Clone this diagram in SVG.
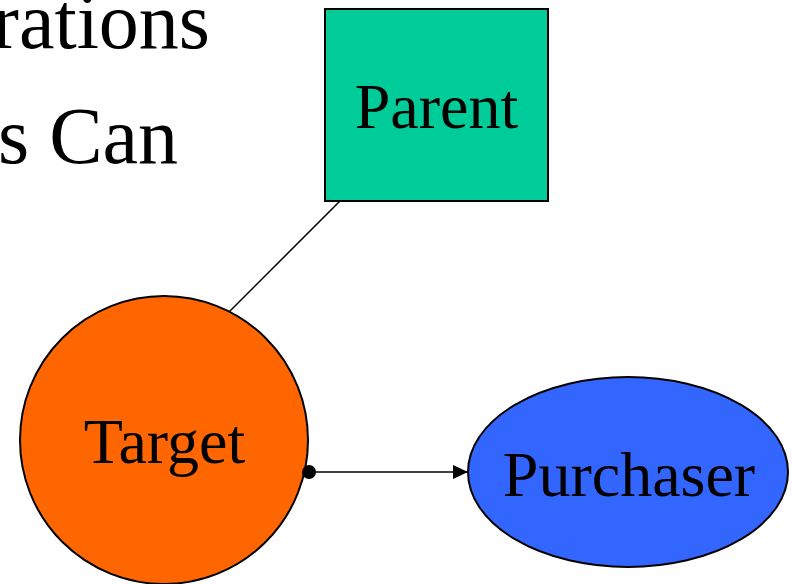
<svg xmlns="http://www.w3.org/2000/svg" width="792" height="584" viewBox="0 0 792 584">
<style>
.t{font-size:80px}
.n{font-size:64px;text-anchor:middle}
.s{stroke:#000;stroke-width:2}
.c{stroke:#000;stroke-width:1.5}
</style>
<defs>
<marker id="ah" markerWidth="16" markerHeight="14" refX="15" refY="7" orient="auto" markerUnits="userSpaceOnUse">
<path d="M0,0 L15,7 L0,14 Z" fill="#000"/>
</marker>
</defs>
<rect width="792" height="584" fill="#fff"/>
<g font-family="Liberation Serif, serif" fill="#000">
<text class="t" x="210" y="48" text-anchor="end">rations</text>
<text class="t" x="178" y="163" text-anchor="end">s Can</text>
</g>
<g id="connectors">
<line class="c" x1="340" y1="201" x2="229" y2="312"/>
<line class="c" x1="309" y1="472" x2="468" y2="472" marker-end="url(#ah)"/>
</g>
<g id="parent" font-family="Liberation Serif, serif">
<rect class="s" x="325" y="9" width="223" height="192" fill="#00CC99"/>
<text class="n" x="436.5" y="128" fill="#000">Parent</text>
</g>
<g id="target" font-family="Liberation Serif, serif">
<circle class="s" cx="164" cy="440" r="144" fill="#FF6600"/>
<text class="n" x="164.5" y="463" fill="#000">Target</text>
</g>
<g id="purchaser" font-family="Liberation Serif, serif">
<ellipse class="s" cx="628" cy="472" rx="160" ry="95" fill="#3366FF"/>
<text class="n" x="629" y="496" fill="#000">Purchaser</text>
</g>
<g id="connector-dot">
<circle cx="309" cy="472" r="7" fill="#000"/>
</g>
</svg>
